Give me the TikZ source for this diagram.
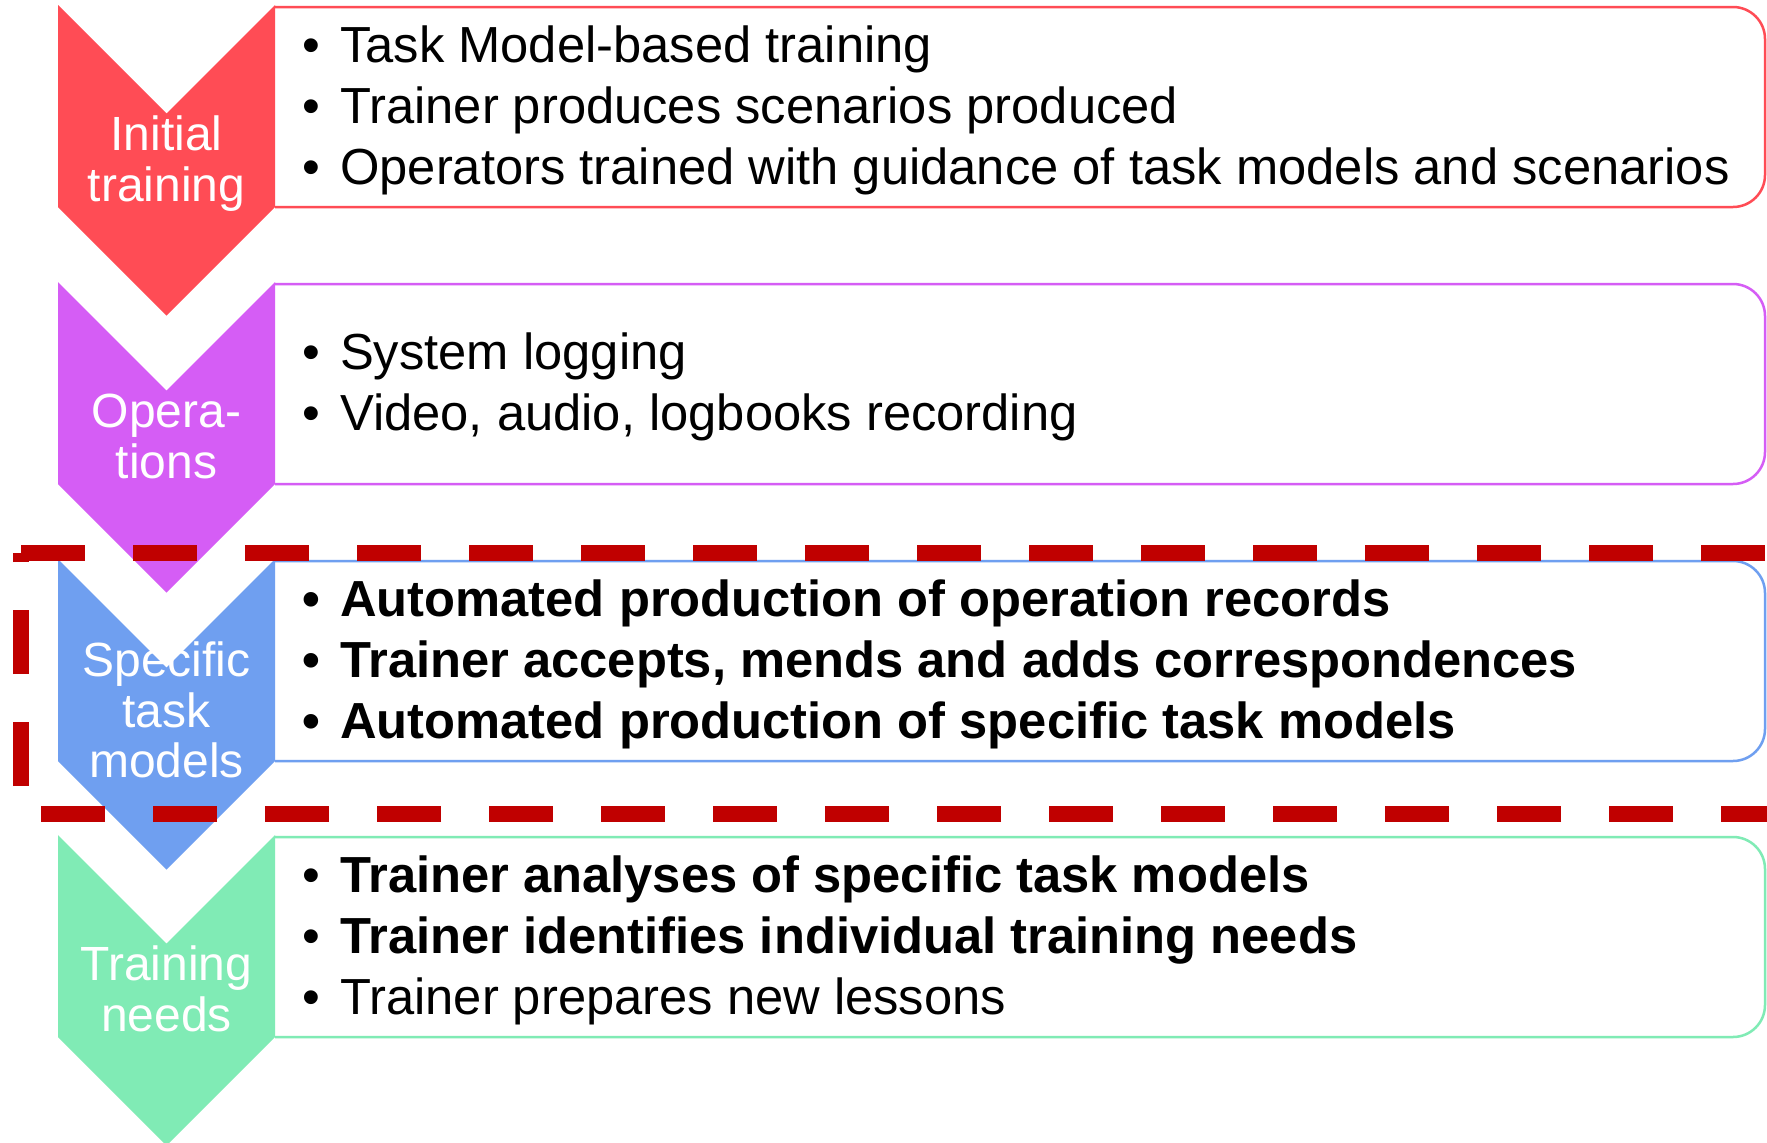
\documentclass[tikz,border=0pt]{standalone}
\usepackage{fontspec}
\setmainfont{Liberation Sans}
\definecolor{cred}{HTML}{FF4C55}
\definecolor{cpurp}{HTML}{D55DF5}
\definecolor{cblue}{HTML}{6F9FF0}
\definecolor{cgreen}{HTML}{80EBB5}
\definecolor{hlred}{HTML}{C00000}
\newcommand{\bul}{\makebox[38pt][l]{•}}
\tikzset{
  chevfill/.style={fill=#1, draw=none},
  listbox/.style={draw=#1, line width=2.5pt, rounded corners=32pt},
  chevlabel/.style={text=white, font=\fontsize{48}{49}\selectfont, align=center, inner sep=0pt},
  listtext/.style={font=\fontsize{50.7}{61}\selectfont, align=left, anchor=west, inner sep=0pt},
  boldlist/.style={listtext, font=\fontsize{50.7}{61}\selectfont\bfseries},
  highlight/.style={draw=hlred, line width=16pt, dash pattern=on 64pt off 48pt}
}
\begin{document}
\begin{tikzpicture}[x=1pt,y=-1pt]
\useasboundingbox (0,0) rectangle (1767,1143);
\clip (0,0) rectangle (1767,1143);
\fill[white] (0,0) rectangle (1767,1143);
% boxes
\foreach \T/\col in {5/cred, 282/cpurp, 559/cblue, 835/cgreen}{
  \draw[listbox=\col] (275,\T+2) -- (1765,\T+2) -- (1765,\T+202) -- (275,\T+202);
}
% chevrons
\foreach \T/\col in {5/cred, 282/cpurp, 559/cblue, 835/cgreen}{
  \fill[chevfill=\col] (58,\T) -- (166.5,\T+108.5) -- (275,\T) -- (275,\T+202)
     -- (166.5,\T+310.5) -- (58,\T+202) -- cycle;
}
% chevron labels
\node[chevlabel] (l1) at (166.5,166) {\strut Initial\\\strut training};
\node[chevlabel] (l2) at (166.5,443) {\strut Opera-\\\strut tions};
\node[chevlabel] (l3) at (166.5,717) {\strut Specific\\\strut task\\\strut models};
\node[chevlabel] (l4) at (166.5,996) {\strut Training\\\strut needs};
% list texts
\node[listtext] (t1) at (302,111) {\strut\bul Task Model-based training\\
  \strut\bul Trainer produces scenarios produced\\
  \strut\bul Operators trained with guidance of task models and scenarios};
\node[listtext] (t2) at (302,388) {\strut\bul System logging\\
  \strut\bul Video, audio, logbooks recording};
\node[boldlist] (t3) at (302,665) {\strut\bul Automated production of operation records\\
  \strut\bul Trainer accepts, mends and adds correspondences\\
  \strut\bul Automated production of specific task models};
\node[listtext] (t4) at (302,941) {\strut\bul \textbf{Trainer analyses of specific task models}\\
  \strut\bul \textbf{Trainer identifies individual training needs}\\
  \strut\bul Trainer prepares new lessons};
% highlight frame
\draw[highlight] (21,553) -- (1780.5,553) -- (1780.5,814) -- (21,814) -- cycle;
\end{tikzpicture}
\end{document}
